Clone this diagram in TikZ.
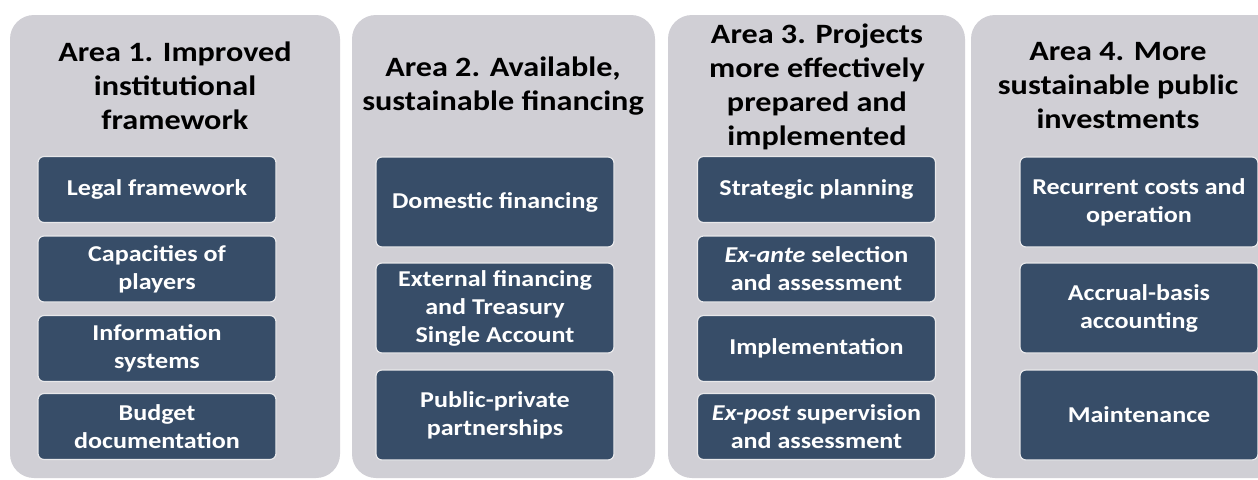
\documentclass[tikz,border=0pt]{standalone}
\usepackage{fontspec}
\setmainfont[FakeStretch=1.15]{Carlito}
\usetikzlibrary{positioning}
\definecolor{panelgray}{RGB}{208,207,213}
\definecolor{boxblue}{RGB}{55,77,104}
\definecolor{boxedge}{RGB}{232,232,234}
\begin{document}
\begin{tikzpicture}[x=0.75pt,y=0.75pt,yscale=-1,
	panel/.style={fill=panelgray,draw=none,rounded corners=18pt,inner sep=0pt,minimum height=347.25pt},
	area/.style={align=center,inner sep=0pt,font=\bfseries\fontsize{21}{25.5}\selectfont},
	item/.style={fill=boxblue,draw=boxedge,line width=0.9pt,rounded corners=4.5pt,inner sep=0pt,
		minimum width=178.5pt,text=white,align=center,font=\bfseries\fontsize{17}{21}\selectfont},
	short/.style={item,minimum height=49.5pt},
	tall/.style={item,minimum height=67.5pt}]
	%set diagram frame to 1258 x 479
	\clip (0,0) rectangle (1258,479);
	\fill [white] (0,0) rectangle (1258,479);
	
	%Shape: Panels
	\node [panel,minimum width=247.5pt] (area1) at (175,246.5) {};
	\node [panel,minimum width=227.25pt] (area2) at (503.5,246.5) {};
	\node [panel,minimum width=222.75pt] (area3) at (816.5,246.5) {};
	\node [panel,minimum width=240pt] (area4) at (1131,246.5) {};
	
	% Text Node
	\node [area] (t1) at (175,86) {Area 1. Improved\\institutional\\framework};
	\node [area] (t2) at (503,86) {Area 2. Available,\\sustainable financing};
	\node [area] (t3) at (817,87) {Area 3. Projects\\more effectively\\prepared and\\implemented};
	\node [area] (t4) at (1118,86) {Area 4. More\\sustainable public\\investments};
	
	%Shape: Boxes, area 1
	\node [short] (legal) at (157,189.5) {Legal framework};
	\node [short] (players) at (157,269) {Capacities of\\players};
	\node [short] (infosys) at (157,348.5) {Information\\systems};
	\node [short] (budget) at (157,426.5) {Budget\\documentation};
	
	%Shape: Boxes, area 2
	\node [tall] (domestic) at (495,202) {Domestic financing};
	\node [tall] (external) at (495,308) {External financing\\and Treasury\\Single Account};
	\node [tall] (ppp) at (495,415) {Public-private\\partnerships};
	
	%Shape: Boxes, area 3
	\node [short] (strategic) at (816.5,189.5) {Strategic planning};
	\node [short] (exante) at (816.5,269) {\textit{Ex-ante} selection\\and assessment};
	\node [short] (implement) at (816.5,348.5) {Implementation};
	\node [short] (expost) at (816.5,426.5) {\textit{Ex-post} supervision\\and assessment};
	
	%Shape: Boxes, area 4
	\node [tall] (recurrent) at (1139,202) {Recurrent costs and\\operation};
	\node [tall] (accrual) at (1139,308) {Accrual-basis\\accounting};
	\node [tall] (maint) at (1139,415) {Maintenance};
\end{tikzpicture}
\end{document}
